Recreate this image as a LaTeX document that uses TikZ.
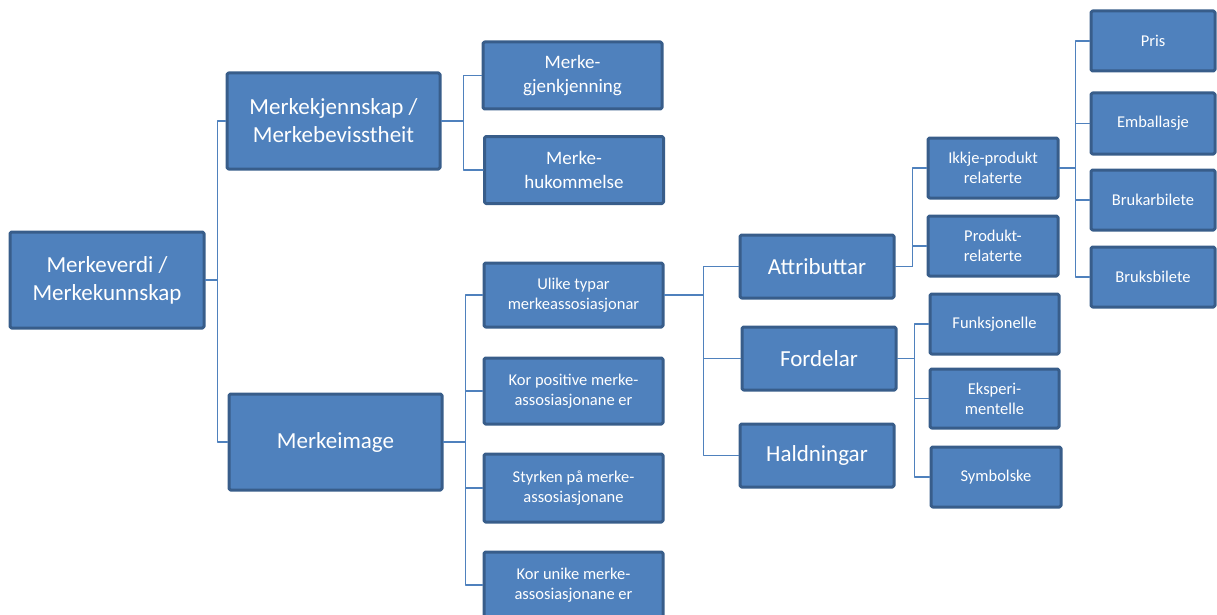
\documentclass[tikz,border=0pt]{standalone}
\usepackage{fontspec}
\setmainfont{Carlito}
\definecolor{boxfill}{HTML}{4F81BD}
\definecolor{boxline}{HTML}{385D8A}
\begin{document}
\begin{tikzpicture}[x=1pt, y=-1pt, line join=round, line cap=round,
	box/.style={draw=boxline, fill=boxfill, line width=3pt, rounded corners=1.5pt, text=white, align=center, inner sep=2pt},
	bigbox/.style={box, font=\fontsize{23}{28}\selectfont},
	midbox/.style={box, font=\fontsize{19}{24}\selectfont},
	smallbox/.style={box, font=\fontsize{16.5}{20}\selectfont},
	link/.style={draw=boxfill, line width=1.5pt}]
			\useasboundingbox (0,0) rectangle (1217,615);
			\node[bigbox, minimum width=194, minimum height=96] (verdi) at (107,280) {Merkeverdi /\\Merkekunnskap};
			\node[bigbox, minimum width=213, minimum height=96] (kjenn) at (333.5,121) {Merkekjennskap /\\Merkebevisstheit};
			\node[bigbox, minimum width=213, minimum height=96] (image) at (335.5,442) {Merkeimage};
			\node[midbox, minimum width=179, minimum height=67] (gjenkj) at (572.5,75.5) {Merke-\\gjenkjenning};
			\node[midbox, minimum width=179, minimum height=67] (hukomm) at (574,170) {Merke-\\hukommelse};
			\node[smallbox, minimum width=179, minimum height=64] (ulike) at (573.5,295) {Ulike typar\\merkeassosiasjonar};
			\node[smallbox, minimum width=179, minimum height=66] (positiv) at (573.5,391) {Kor positive merke-\\assosiasjonane er};
			\node[smallbox, minimum width=179, minimum height=68] (styrke) at (573.5,488) {Styrken på merke-\\assosiasjonane};
			\node[smallbox, minimum width=179, minimum height=66] (unike) at (573.5,585) {Kor unike merke-\\assosiasjonane er};
			\node[bigbox, minimum width=154, minimum height=63] (attr) at (817,266.5) {Attributtar};
			\node[bigbox, minimum width=154, minimum height=63] (ford) at (819,358.5) {Fordelar};
			\node[bigbox, minimum width=154, minimum height=63] (hald) at (817,455.5) {Haldningar};
			\node[smallbox, minimum width=130, minimum height=60] (ikkje) at (993,168) {Ikkje-produkt\\relaterte};
			\node[smallbox, minimum width=130, minimum height=60] (prod) at (993,246) {Produkt-\\relaterte};
			\node[smallbox, minimum width=129, minimum height=60] (funk) at (994.5,324) {Funksjonelle};
			\node[smallbox, minimum width=129, minimum height=59] (eksp) at (994.5,398.5) {Eksperi-\\mentelle};
			\node[smallbox, minimum width=130, minimum height=60] (symb) at (996,477) {Symbolske};
			\node[smallbox, minimum width=124, minimum height=60] (pris) at (1153,41) {Pris};
			\node[smallbox, minimum width=124, minimum height=61] (emb) at (1153,123.5) {Emballasje};
			\node[smallbox, minimum width=124, minimum height=60] (bruk) at (1153,200) {Brukarbilete};
			\node[smallbox, minimum width=124, minimum height=60] (bruks) at (1153,277) {Bruksbilete};
			\foreach \c in {kjenn,image} \draw[link] (verdi.east) -- ++(12,0) |- (\c.west);
			\foreach \c in {gjenkj,hukomm} \draw[link] (kjenn.east) -- ++(22,0) |- (\c.west);
			\foreach \c in {ulike,positiv,styrke,unike} \draw[link] (image.east) -- ++(22,0) |- (\c.west);
			\foreach \c in {attr,ford,hald} \draw[link] (ulike.east) -- ++(39,0) |- (\c.west);
			\foreach \c in {ikkje,prod} \draw[link] (attr.east) -- ++(17,0) |- (\c.west);
			\foreach \c in {funk,eksp,symb} \draw[link] (ford.east) -- ++(17,0) |- (\c.west);
			\foreach \c in {pris,emb,bruk,bruks} \draw[link] (ikkje.east) -- ++(16,0) |- (\c.west);
\end{tikzpicture}
\end{document}
